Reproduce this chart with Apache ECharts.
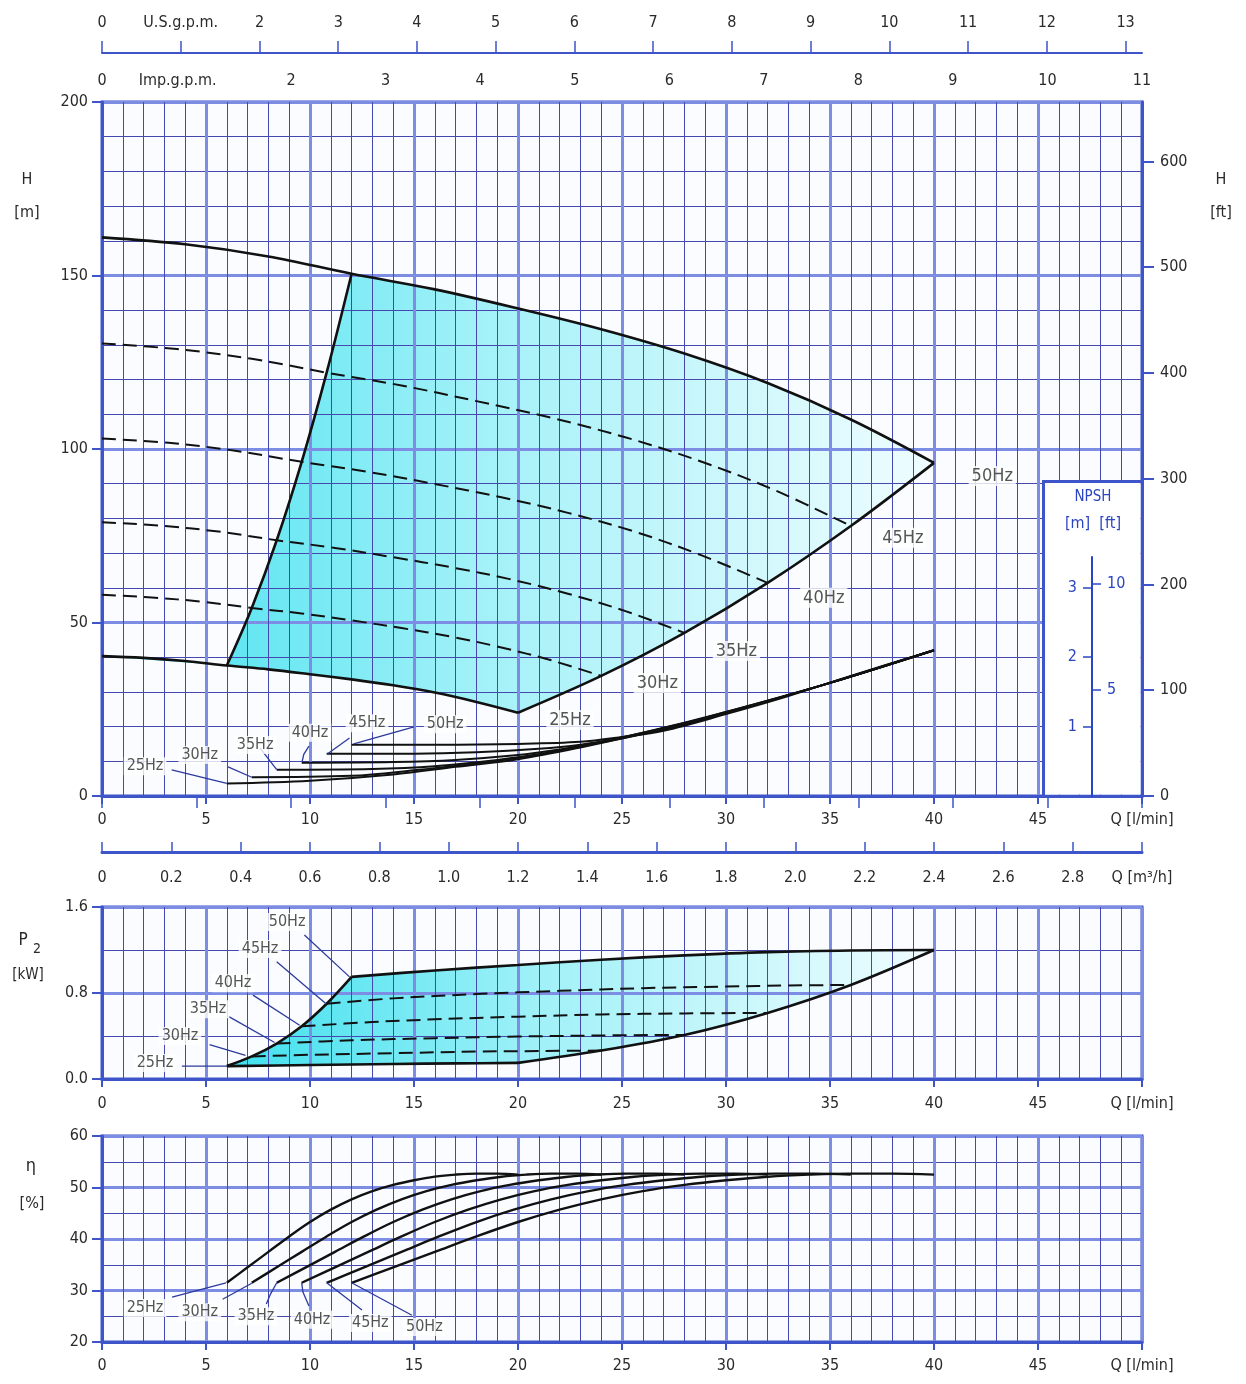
<!DOCTYPE html>
<html><head><meta charset="utf-8">
<script src="https://cdn.jsdelivr.net/npm/echarts@6.0.0/dist/echarts.min.js"></script>
<style>html,body{margin:0;padding:0;background:#fff}#c{width:1246px;height:1384px}</style>
</head><body><div id="c"></div>
<script>
// ---------- DATA (Q in l/min) ----------
const speedNames = ['50Hz','45Hz','40Hz','35Hz','30Hz','25Hz'];

// Head H [m]
const head50 = [[0,161],[4,159],[8,155.5],[12,150.5],[16,146],[20,140.5],[24,134.5],[28,127.5],[32,119],[36,108.5],[40,96]];
const head45 = [[0,130.4],[3.6,128.8],[7.2,126],[10.8,122],[14.4,118.3],[18,113.8],[21.6,109],[25.2,103.3],[28.8,96.4],[32.4,88],[36,77.8]];
const head40 = [[0,103],[3.2,101.8],[6.4,99.5],[9.6,96.3],[12.8,93.4],[16,89.9],[19.2,86.1],[22.4,81.6],[25.6,76.2],[28.8,69.4],[32,61.4]];
const head35 = [[0,78.9],[2.8,77.9],[5.6,76.2],[8.4,73.7],[11.2,71.5],[14,68.8],[16.8,65.9],[19.6,62.5],[22.4,58.3],[25.2,53.2],[28,47]];
const head30 = [[0,58],[2.4,57.2],[4.8,56],[7.2,54.2],[9.6,52.6],[12,50.6],[14.4,48.4],[16.8,45.9],[19.2,42.8],[21.6,39.1],[24,34.6]];
const head25 = [[0,40.3],[2,39.8],[4,38.9],[6,37.6],[8,36.5],[10,35.1],[12,33.6],[14,31.9],[16,29.8],[18,27.1],[20,24]];
const headMinFlow = [[6,37.6],[7.2,54.2],[8.4,73.7],[9.6,96.3],[10.8,122],[12,150.5]];
const headMaxFlow = [[20,24],[24,34.6],[28,47],[32,61.4],[36,77.8],[40,96]];

// NPSH [m]
const npsh50 = [[12,0.74],[16,0.74],[20,0.75],[23,0.78],[25,0.85],[27,0.94],[30,1.18],[33,1.44],[36,1.73],[40,2.10]];
const npsh45 = [[10.8,0.61],[15,0.61],[18,0.63],[21,0.68],[23,0.74],[25,0.84],[28,1.03],[31,1.28],[35,1.63],[40,2.10]];
const npsh40 = [[9.6,0.48],[14,0.49],[17,0.52],[20,0.59],[22,0.67],[24,0.77],[27,0.96],[30,1.21],[35,1.63],[40,2.10]];
const npsh35 = [[8.4,0.38],[13,0.39],[16,0.43],[19,0.52],[21,0.60],[23,0.72],[26,0.91],[30,1.21],[35,1.63],[40,2.10]];
const npsh30 = [[7.2,0.27],[12,0.29],[15,0.37],[18,0.47],[20,0.55],[23,0.71],[26,0.91],[30,1.20],[35,1.63],[40,2.10]];
const npsh25 = [[6,0.18],[10,0.22],[14,0.31],[17,0.42],[20,0.53],[23,0.70],[26,0.90],[30,1.20],[35,1.63],[40,2.10]];

// Power P2 [kW]
const power50 = [[12,0.95],[16,1.01],[20,1.06],[24,1.11],[28,1.15],[32,1.18],[36,1.195],[40,1.2]];
const power45 = [[10.8,0.70],[14,0.75],[18,0.79],[22,0.82],[26,0.845],[30,0.86],[33,0.87],[36,0.875]];
const power40 = [[9.6,0.49],[13,0.53],[16,0.555],[20,0.58],[24,0.6],[28,0.61],[32,0.615]];
const power35 = [[8.4,0.33],[12,0.36],[16,0.38],[20,0.395],[24,0.405],[28,0.41]];
const power30 = [[7.2,0.21],[10,0.225],[14,0.24],[18,0.255],[21,0.26],[24,0.265]];
const power25 = [[6,0.12],[10,0.13],[14,0.14],[17,0.145],[20,0.15]];
const powerMinFlow = [[6,0.12],[7.2,0.21],[8.4,0.33],[9.6,0.49],[10.8,0.70],[12,0.95]];
const powerMaxFlow = [[20,0.15],[24,0.265],[28,0.41],[32,0.615],[36,0.875],[40,1.2]];

// Efficiency eta [%]
const eff25 = [[6,31.5],[7,34.5],[8,37.5],[9,40.5],[10,43.3],[11,45.7],[12,47.7],[13,49.3],[14,50.5],[15,51.4],[16,52.1],[17,52.5],[18,52.7],[19,52.7],[20,52.5]];
const eff30 = [[7.2,31.5],[8.4,34.5],[9.6,37.5],[10.8,40.5],[12,43.3],[13.2,45.7],[14.4,47.7],[15.6,49.3],[16.8,50.5],[18,51.4],[19.2,52.1],[20.4,52.5],[21.6,52.7],[22.8,52.7],[24,52.5]];
const eff35 = [[8.4,31.5],[9.8,34.5],[11.2,37.5],[12.6,40.5],[14,43.3],[15.4,45.7],[16.8,47.7],[18.2,49.3],[19.6,50.5],[21,51.4],[22.4,52.1],[23.8,52.5],[25.2,52.7],[26.6,52.7],[28,52.5]];
const eff40 = [[9.6,31.5],[11.2,34.5],[12.8,37.5],[14.4,40.5],[16,43.3],[17.6,45.7],[19.2,47.7],[20.8,49.3],[22.4,50.5],[24,51.4],[25.6,52.1],[27.2,52.5],[28.8,52.7],[30.4,52.7],[32,52.5]];
const eff45 = [[10.8,31.5],[12.6,34.5],[14.4,37.5],[16.2,40.5],[18,43.3],[19.8,45.7],[21.6,47.7],[23.4,49.3],[25.2,50.5],[27,51.4],[28.8,52.1],[30.6,52.5],[32.4,52.7],[34.2,52.7],[36,52.5]];
const eff50 = [[12,31.5],[14,34.5],[16,37.5],[18,40.5],[20,43.3],[22,45.7],[24,47.7],[26,49.3],[28,50.5],[30,51.4],[32,52.1],[34,52.5],[36,52.7],[38,52.7],[40,52.5]];

// Tick values
const usGpmTicks = [0,1,2,3,4,5,6,7,8,9,10,11,12,13];
const impGpmTicks = [0,1,2,3,4,5,6,7,8,9,10,11];
const impGpmLabels = [0,0.8,2,3,4,5,6,7,8,9,10,11];
const ftTicks = [0,100,200,300,400,500,600];
const npshMTicks = [1,2,3];
const npshFtTicks = [5,10];

// Annotation anchors (data units)
const headLabelPos = [[42.8,92.2],[38.5,74.4],[34.7,57.1],[30.5,41.8],[26.7,32.6],[22.5,21.9]];
const npshLabelPos = [[16.5,1.035],[12.74,1.05],[10.0,0.91],[7.36,0.735],[4.7,0.59],[2.07,0.43]];
const npshLeaders = [
  [[15.0,0.995],[12.1,0.75]],
  [[11.9,0.835],[10.85,0.61]],
  [[9.95,0.72],[9.7,0.6],[9.62,0.49]],
  [[7.6,0.69],[8.4,0.38]],
  [[6.06,0.42],[7.2,0.27]],
  [[3.35,0.375],[6.0,0.183]]
];
const powerLabelPos = [[8.9,1.46],[7.6,1.21],[6.3,0.89],[5.1,0.65],[3.75,0.40],[2.55,0.15]];
const powerLeaders = [
  [[9.73,1.34],[11.9,0.95]],
  [[8.4,1.09],[10.77,0.70]],
  [[7.26,0.78],[9.5,0.5]],
  [[6.1,0.58],[8.3,0.34]],
  [[5.17,0.32],[6.9,0.22]],
  [[3.84,0.12],[6.0,0.12]]
];
const effLabelPos = [[15.5,22.9],[12.9,23.7],[10.1,24.3],[7.4,25.0],[4.7,25.8],[2.07,26.6]];
const effLeaders = [
  [[14.9,25.2],[12.0,31.5]],
  [[12.5,26.2],[10.8,31.5]],
  [[9.95,27.0],[9.66,29.7],[9.6,31.5]],
  [[7.9,27.4],[8.1,29.3],[8.4,31.5]],
  [[5.8,28.3],[7.2,31.4]],
  [[3.37,28.7],[5.96,31.5]]
];

// ---------- CHART ----------
const FONT = "'Liberation Sans Narrow','DejaVu Sans Condensed','Liberation Sans',Arial,sans-serif";
const BLUE = '#3d55c9', MINOR = '#4549ad', MAJOR = '#7d8de4', TXT = '#2a2a2a', NBLUE = '#2b45c2', LEAD = '#2c3a9c';
const chart = echarts.init(document.getElementById('c'), null, {renderer:'canvas'});

function qAxis(gridIndex, margin) {
  return {type:'value', gridIndex, position:'bottom', min:0, max:50, interval:5, z:2,
    axisLine:{show:true, onZero:false, lineStyle:{color:BLUE, width:3}},
    axisTick:{show:true, length:8, lineStyle:{color:BLUE, width:2}},
    axisLabel:{margin, color:TXT, fontSize:16, fontFamily:FONT, formatter:v=> v===50 ? 'Q [l/min]' : String(v)},
    minorTick:{show:false, splitNumber:5},
    splitLine:{show:true, lineStyle:{color:MAJOR, width:3}},
    minorSplitLine:{show:true, lineStyle:{color:MINOR, width:1}}};
}
function valAxis(gridIndex, min, max, interval, split, fmt) {
  return {type:'value', gridIndex, position:'left', min, max, interval, z:2,
    axisLine:{show:true, onZero:false, lineStyle:{color:BLUE, width:3}},
    axisTick:{show:true, length:10, lineStyle:{color:BLUE, width:2}},
    axisLabel:{margin:14, color:TXT, fontSize:16, fontFamily:FONT, formatter:fmt},
    minorTick:{show:false, splitNumber:split},
    splitLine:{show:true, lineStyle:{color:MAJOR, width:3}},
    minorSplitLine:{show:true, lineStyle:{color:MINOR, width:1}}};
}

const gridStyle = {show:true, borderColor:BLUE, borderWidth:3, backgroundColor:'#fafcff'};

const xAxes = [
  qAxis(0, 16),
  {type:'value', gridIndex:0, position:'top', offset:49, min:0, max:50/3.78541, interval:1, z:2,
   axisLine:{show:true, onZero:false, lineStyle:{color:BLUE, width:2}},
   axisTick:{show:true, length:12, customValues:usGpmTicks, lineStyle:{color:BLUE, width:1.5}},
   axisLabel:{margin:22, customValues:usGpmTicks, color:TXT, fontSize:16, fontFamily:FONT,
     formatter:v=> v===1 ? 'U.S.g.p.m.' : String(v)},
   splitLine:{show:false}},
  {type:'value', gridIndex:0, position:'top', offset:49, min:0, max:11, interval:1, z:2,
   axisLine:{show:false},
   axisTick:{show:true, inside:true, length:12, customValues:impGpmTicks, lineStyle:{color:BLUE, width:1.5}},
   axisLabel:{inside:true, margin:20, customValues:impGpmLabels, color:TXT, fontSize:16, fontFamily:FONT,
     formatter:v=> (Math.abs(v-Math.round(v))>1e-6) ? 'Imp.g.p.m.' : String(Math.round(v))},
   splitLine:{show:false}},
  qAxis(1, 17),
  {type:'value', gridIndex:1, position:'top', offset:55, min:0, max:3, interval:0.2, z:2,
   axisLine:{show:true, onZero:false, lineStyle:{color:BLUE, width:3}},
   axisTick:{show:true, length:10, lineStyle:{color:BLUE, width:1.5}},
   axisLabel:{inside:true, margin:18, color:TXT, fontSize:16, fontFamily:FONT,
     formatter:v=> v===0 ? '0' : (Math.abs(v-3)<1e-6 ? 'Q [m³/h]' : v.toFixed(1))},
   splitLine:{show:false}},
  qAxis(2, 16),
  {type:'value', gridIndex:3, show:false, min:0, max:1}
];

const yAxes = [
  valAxis(0, 0, 200, 50, 5, v=>String(v)),
  {type:'value', gridIndex:0, position:'right', min:0, max:200*3.28084, interval:100, z:2,
   axisLine:{show:true, onZero:false, lineStyle:{color:BLUE, width:3}},
   axisTick:{show:true, length:12, customValues:ftTicks, lineStyle:{color:BLUE, width:2}},
   axisLabel:{margin:18, customValues:ftTicks, color:TXT, fontSize:16, fontFamily:FONT},
   splitLine:{show:false}},
  {type:'value', gridIndex:0, show:false, min:0, max:10},
  valAxis(1, 0, 1.6, 0.8, 2, v=>v.toFixed(1)),
  valAxis(2, 20, 60, 10, 2, v=>String(v)),
  {type:'value', gridIndex:3, position:'left', min:0, max:3.44, interval:1, z:6,
   axisLine:{show:true, onZero:false, lineStyle:{color:NBLUE, width:2}},
   axisTick:{show:true, length:9, customValues:npshMTicks, lineStyle:{color:NBLUE, width:1.5}},
   axisLabel:{margin:15, customValues:npshMTicks, color:NBLUE, fontSize:16, fontFamily:FONT},
   splitLine:{show:false}},
  {type:'value', gridIndex:3, position:'right', min:0, max:3.44*3.28084, interval:5, z:6,
   axisLine:{show:false},
   axisTick:{show:true, length:9, customValues:npshFtTicks, lineStyle:{color:NBLUE, width:1.5}},
   axisLabel:{margin:14, customValues:npshFtTicks, color:NBLUE, fontSize:16, fontFamily:FONT},
   splitLine:{show:false}}
];

function fill(points, xi, yi) {
  return {type:'custom', xAxisIndex:xi, yAxisIndex:yi, z:1, silent:true, clip:true,
    data:[points[0]],
    renderItem:(params, api)=>({type:'polygon',
      shape:{points: points.map(p=>api.coord(p))},
      style:{fill:new echarts.graphic.LinearGradient(0,0,1,0,[
        {offset:0,color:'#3fe0ee'},{offset:0.45,color:'#a2f1f8'},{offset:1,color:'#f0fdff'}])}})};
}
function curve(data, xi, yi, dashed, width) {
  return {type:'line', xAxisIndex:xi, yAxisIndex:yi, data, symbol:'none', showSymbol:false,
    smooth:0.35, z:3, silent:true,
    lineStyle:{color:'#111', width:width||2.4, type: dashed ? [14,7] : 'solid'}};
}
function labels(pos, xi, yi, size) {
  return {type:'scatter', xAxisIndex:xi, yAxisIndex:yi, z:6, silent:true, symbolSize:1,
    itemStyle:{color:'rgba(0,0,0,0)'},
    data: pos.map((p,i)=>({name:speedNames[i], value:p})),
    label:{show:true, position:'inside', formatter:'{b}', color:TXT, fontSize:size, fontFamily:FONT,
      backgroundColor:'#ffffff', padding:[1,3,1,3]}};
}
function leaders(list, xi, yi) {
  return list.map(pts=>({type:'line', xAxisIndex:xi, yAxisIndex:yi, data:pts, symbol:'none', z:4, silent:true,
    lineStyle:{color:LEAD, width:1.3}}));
}

const headEnvelope = headMinFlow.concat(
  head50.filter(p=>p[0]>12),
  headMaxFlow.slice().reverse().slice(1),
  head25.filter(p=>p[0]<20).reverse());
const powerEnvelope = powerMinFlow.concat(
  power50.filter(p=>p[0]>12),
  powerMaxFlow.slice().reverse().slice(1),
  power25.filter(p=>p[0]<20).reverse());

const series = [
  fill(headEnvelope, 0, 0),
  fill(powerEnvelope, 3, 3),
  curve(head50,0,0,false,2.6), curve(head45,0,0,true,2), curve(head40,0,0,true,2),
  curve(head35,0,0,true,2), curve(head30,0,0,true,2), curve(head25,0,0,false,2.6),
  curve(headMinFlow,0,0,false,2.6), curve(headMaxFlow,0,0,false,2.6),
  curve(npsh50,0,2,false,2), curve(npsh45,0,2,false,2), curve(npsh40,0,2,false,2),
  curve(npsh35,0,2,false,2), curve(npsh30,0,2,false,2), curve(npsh25,0,2,false,2),
  curve(power50,3,3,false,2.6), curve(power45,3,3,true,2), curve(power40,3,3,true,2),
  curve(power35,3,3,true,2), curve(power30,3,3,true,2), curve(power25,3,3,false,2.6),
  curve(powerMinFlow,3,3,false,2.6), curve(powerMaxFlow,3,3,false,2.6),
  curve(eff50,5,4,false,2.4), curve(eff45,5,4,false,2.4), curve(eff40,5,4,false,2.4),
  curve(eff35,5,4,false,2.4), curve(eff30,5,4,false,2.4), curve(eff25,5,4,false,2.4),
  labels(headLabelPos,0,0,18), labels(npshLabelPos,0,2,16),
  labels(powerLabelPos,3,3,16), labels(effLabelPos,5,4,16)
].concat(leaders(npshLeaders,0,2), leaders(powerLeaders,3,3), leaders(effLeaders,5,4));

function txt(text, x, y, size, color) {
  return {type:'text', z:8, style:{text, x, y, fill:color||TXT, font:size+'px '+FONT,
    textAlign:'center', textVerticalAlign:'middle', align:'center', verticalAlign:'middle'}};
}

chart.setOption({
  animation:false,
  backgroundColor:'#ffffff',
  grid:[
    Object.assign({left:102, top:102, width:1040, height:694}, gridStyle),
    Object.assign({left:102, top:907, width:1040, height:172}, gridStyle),
    Object.assign({left:102, top:1136, width:1040, height:206}, gridStyle),
    {left:1092, top:557, width:1, height:239, show:false}
  ],
  xAxis:xAxes,
  yAxis:yAxes,
  series,
  graphic:{elements:[
    {type:'rect', z:3, shape:{x:1044.5, y:482.5, width:96, height:312}, style:{fill:'#ffffff'}},
    {type:'polyline', z:3, shape:{points:[[1043.5,796],[1043.5,481.5],[1142,481.5]]}, style:{stroke:BLUE, lineWidth:3, fill:null}},
    txt('H', 27, 180, 16), txt('[m]', 27, 213, 16),
    txt('H', 1221, 180, 16), txt('[ft]', 1221, 213, 16),
    txt('P', 23, 941, 17), txt('2', 37, 949, 14), txt('[kW]', 28, 975, 15),
    txt('η', 31, 1166, 18), txt('[%]', 32, 1204, 16),
    txt('NPSH', 1093, 497, 15, NBLUE), txt('[m]  [ft]', 1093, 524, 16, NBLUE)
  ]}
});
</script></body></html>
